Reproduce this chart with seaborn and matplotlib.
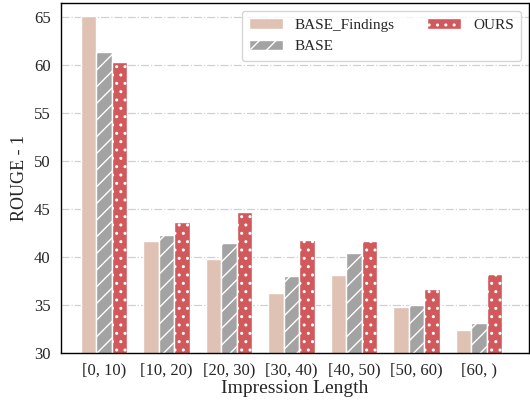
import matplotlib
matplotlib.use("Agg")
import matplotlib.pyplot as plt
import seaborn as sns
import pandas as pd
import numpy as np

categories = ["[0, 10)", "[10, 20)", "[20, 30)", "[30, 40)", "[40, 50)", "[50, 60)", "[60, )"]
base_findings = [65.1, 41.7, 39.8, 36.2, 38.1, 34.8, 32.4]
base = [61.4, 42.3, 41.5, 38.0, 40.4, 35.0, 33.1]
ours = [60.3, 43.7, 44.7, 41.8, 41.7, 36.7, 38.2]
series = ["BASE_Findings", "BASE", "OURS"]
colors = ["#e0c2b4", "#a3a3a3", "#d2595b"]
hatches = ["", "//", ".."]

df = pd.DataFrame({
    "Impression Length": categories * 3,
    "score": base_findings + base + ours,
    "model": [s for s in series for _ in categories],
})

sns.set_style("white")
plt.rcParams["font.family"] = ["Liberation Serif", "DejaVu Serif"]
plt.rcParams["hatch.color"] = "white"
plt.rcParams["hatch.linewidth"] = 1.0

fig = plt.figure(figsize=(5.30, 4.01), dpi=100)
ax = fig.add_axes([0.115, 0.12, 0.883, 0.8725])

sns.barplot(data=df, x="Impression Length", y="score", hue="model",
            palette=colors, width=0.75, ax=ax, saturation=1, edgecolor="white",
            linewidth=1.0, legend=True)

for container, h in zip(ax.containers, hatches):
    for bar in container:
        bar.set_hatch(h)
        bar.set_edgecolor("white")

ax.set_ylim(30, 66.5)
ax.set_xlim(-0.69, 6.8)
ax.set_yticks(np.arange(30, 66, 5))
ax.yaxis.grid(True, linestyle="-.", color="#d0cce2", linewidth=0.9)
ax.set_axisbelow(True)
ax.tick_params(axis="both", direction="out", length=4, width=1, labelsize=12, color="black")
ax.tick_params(axis="x", pad=3)
for s in ax.spines.values():
    s.set_color("black")
    s.set_linewidth(1.0)
ax.set_xlabel("Impression Length", fontsize=14, labelpad=1)
ax.set_ylabel("ROUGE - 1", fontsize=13)

handles, labels = ax.get_legend_handles_labels()
for hnd, h in zip(handles, hatches):
    hnd.set_hatch(h)
    hnd.set_edgecolor("white")
ax.legend(handles, labels, ncol=2, loc="upper right", fontsize=11,
          frameon=True, fancybox=True, edgecolor="#cccccc",
          handlelength=2.2, handletextpad=0.8, columnspacing=2.1,
          borderpad=0.5, labelspacing=0.5)

fig.savefig("out.png", dpi=100)
